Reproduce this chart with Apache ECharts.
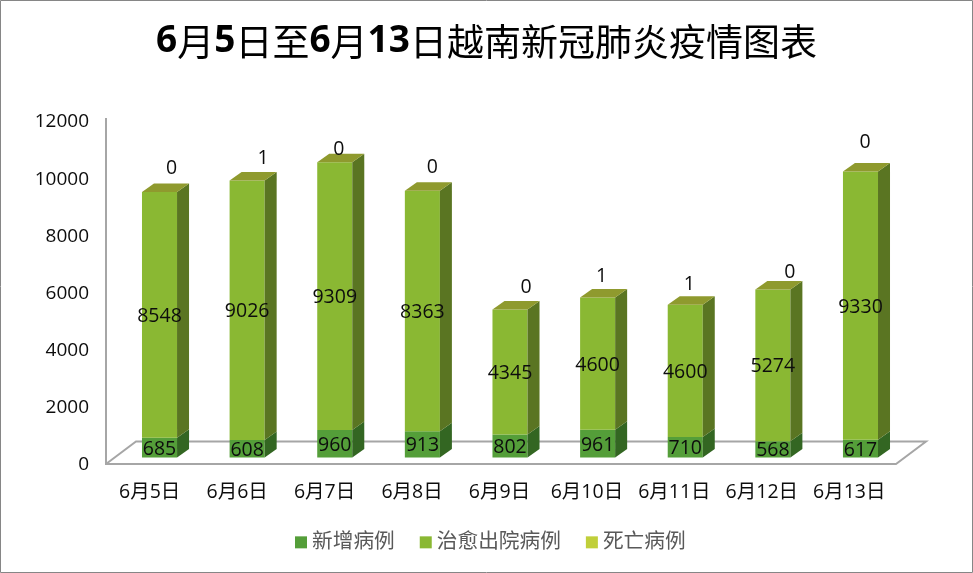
<!DOCTYPE html>
<html><head><meta charset="utf-8">
<style>html,body{margin:0;padding:0;background:#fff}#c{width:973px;height:573px}</style>
<script src="https://cdn.jsdelivr.net/npm/echarts@6/dist/echarts.min.js"></script>
</head><body><div id="c"></div>
<script>
const categories = ['6月5日','6月6日','6月7日','6月8日','6月9日','6月10日','6月11日','6月12日','6月13日'];
const newCases = [685,608,960,913,802,961,710,568,617];
const recovered = [8548,9026,9309,8363,4345,4600,4600,5274,9330];
const deaths = [0,1,0,0,0,1,1,0,0];
const seriesNames = ['新增病例','治愈出院病例','死亡病例'];
const yTicks = {min:0,max:12000,interval:2000};
const titleText = '6月5日至6月13日越南新冠肺炎疫情图表';
// hand-placed death label offsets from the bar's centre and top, as in the reference
const deathLabelDx = [12,16,4,10,16,4,4,17,4.5];
const deathLabelDy = [-25,-24,-14,-25,-24,-23,-22,-19,-31];

const FONT = '"Open Sans","Noto Sans CJK SC",sans-serif';
const CJK = '"Noto Sans CJK SC",sans-serif';
const DX = 12, DY = 8.5, TEXT_NUDGE = 1.5;
function pts(a){return {points:a};}
function makeItem(faces, kind){
  return function(params, api){
    const i = params.dataIndex;
    const x = api.coord([api.value(0),0])[0];
    const y0 = api.coord([api.value(0),api.value(1)])[1];
    const y1 = api.coord([api.value(0),api.value(2)])[1];
    const w = api.size([1,0])[0]*0.4;
    const l = x-w/2, r = x+w/2;
    const children = [
      {type:'polygon',shape:pts([[l,y0],[r,y0],[r,y1],[l,y1]]),style:{fill:faces.front}},
      {type:'polygon',shape:pts([[r,y0],[r+DX,y0-DY],[r+DX,y1-DY],[r,y1]]),style:{fill:faces.side}}
    ];
    if(kind==='top'){
      children.push({type:'polygon',shape:pts([[l,y1],[r,y1],[r+DX,y1-DY],[l+DX,y1-DY]]),style:{fill:faces.cap}});
      children.push({type:'text',style:{text:String(api.value(3)),x:x+deathLabelDx[i],y:y1+deathLabelDy[i]+TEXT_NUDGE,
        align:'center',verticalAlign:'middle',font:'19.5px '+FONT,fill:'#0d0d0d'},z2:10});
    } else {
      children.push({type:'text',style:{text:String(api.value(3)),x:x,y:(y0+y1)/2+TEXT_NUDGE,
        align:'center',verticalAlign:'middle',font:'19.5px '+FONT,fill:'#0d0d0d'},z2:10});
    }
    return {type:'group',children};
  };
}
let acc = categories.map(()=>0);
function stacked(values){
  const out = values.map((v,i)=>[i,acc[i],acc[i]+v,v]);
  acc = acc.map((a,i)=>a+values[i]);
  return out;
}
const colors = [
  {front:'#549E39',side:'#336622'},
  {front:'#8AB833',side:'#5A7522'},
  {front:'#C0CF3A',side:'#5A7522',cap:'#8F9A2E'}
];
const sData = [stacked(newCases),stacked(recovered),stacked(deaths)];
const series = seriesNames.map((name,k)=>({
  name,type:'custom',xAxisIndex:0,yAxisIndex:0,silent:true,
  coordinateSystem:'cartesian2d',
  itemStyle:{color:colors[k].front},
  encode:{x:0,y:2},
  renderItem:makeItem(colors[k],k===2?'top':'inner'),
  data:sData[k],z:3+k
}));
// bold digits, regular CJK, as in the reference title
const titleRich = titleText.replace(/(\d+)|([^\d]+)/g,(m,d,c)=>d?`{d|${d}}`:`{c|${c}}`);

const chart = echarts.init(document.getElementById('c'),null,{renderer:'canvas'});
chart.setOption({
  animation:false,
  backgroundColor:'#fff',
  title:{text:titleRich,left:'center',top:18,textStyle:{rich:{
    d:{fontFamily:'"Open Sans",sans-serif',fontSize:37,fontWeight:'bold',color:'#000'},
    c:{fontFamily:CJK,fontSize:37,fontWeight:'normal',color:'#000'}}}},
  legend:{data:seriesNames,left:290,top:527,icon:'rect',itemWidth:12,itemHeight:12,itemGap:25,
    textStyle:{fontFamily:FONT,fontSize:20.7,color:'#595959'}},
  grid:[
    {left:115.7,top:112.5,width:788.6,height:345,show:false},
    {left:106,top:122,width:787,height:343,show:false}
  ],
  xAxis:[
    {type:'category',gridIndex:0,data:categories,show:false},
    {type:'category',gridIndex:1,data:categories,axisLine:{show:false},axisTick:{show:false},
     axisLabel:{margin:18,interval:0,fontFamily:FONT,fontSize:19.5,color:'#0d0d0d'}}
  ],
  yAxis:[
    {type:'value',gridIndex:0,min:yTicks.min,max:yTicks.max,interval:yTicks.interval,show:false},
    {type:'value',gridIndex:1,min:yTicks.min,max:yTicks.max,interval:yTicks.interval,
     axisLine:{show:false},axisTick:{show:false},splitLine:{show:false},
     axisLabel:{margin:17,formatter:v=>String(v),fontFamily:FONT,fontSize:19,color:'#0d0d0d'}}
  ],
  graphic:[
    {type:'rect',z:0,silent:true,shape:{x:0.5,y:0.5,width:972,height:572},style:{fill:'#fff',stroke:'#868686',lineWidth:1}},
    {type:'polyline',z:1,silent:true,shape:{points:[[106,118],[106,464],[896,464],[926,441.5],[136,441.5],[106,464]]},
     style:{fill:null,stroke:'#A6A6A6',lineWidth:2}}
  ],
  series
});
</script></body></html>
